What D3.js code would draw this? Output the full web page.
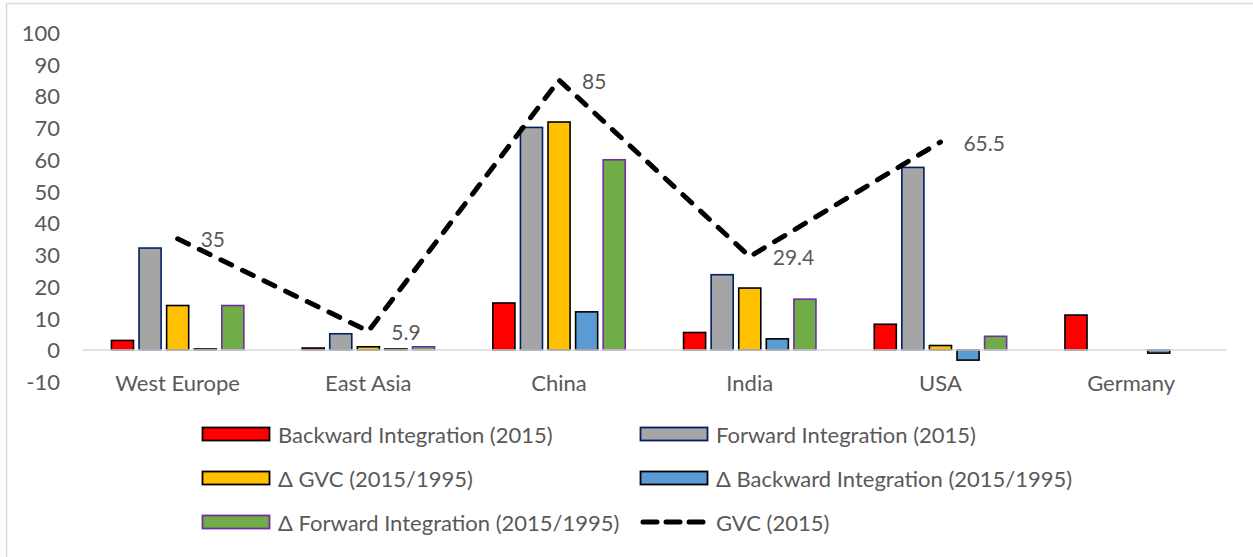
<!DOCTYPE html>
<html>
<head>
<meta charset="utf-8">
<script src="https://cdn.jsdelivr.net/npm/d3@7"></script>
<style>
  html, body { margin: 0; padding: 0; background: #ffffff; }
  svg text { font-family: "Lato", "Liberation Sans", sans-serif; fill: #595959; }
</style>
</head>
<body>
<svg id="chart" width="1253" height="557"></svg>
<script>
// Regions on the horizontal axis
const categories = ["West Europe", "East Asia", "China", "India", "USA", "Germany"];

// Bar series (percent); null = no bar drawn
const backward2015      = [3.0, 0.6, 14.8, 5.5, 8.1, 11.0];
const forward2015       = [32.1, 5.1, 70.1, 23.7, 57.5, null];
const deltaGVC          = [14.0, 1.0, 71.8, 19.5, 1.4, null];
const deltaBackward     = [0.3, 0.3, 12.0, 3.5, -3.2, -1.0];
const deltaForward      = [14.0, 1.0, 59.9, 16.0, 4.3, null];

// Line series with data labels
const gvc2015 = [35, 5.9, 85, 29.4, 65.5, null];

// Value axis ticks
const yTicks = [-10, 0, 10, 20, 30, 40, 50, 60, 70, 80, 90, 100];

const barSeries = [
  { name: "Backward Integration (2015)",           values: backward2015,  fill: "#ff0000", stroke: "#000000" },
  { name: "Forward Integration (2015)",            values: forward2015,   fill: "#a5a5a5", stroke: "#002060" },
  { name: "\u0394 GVC (2015/1995)",                values: deltaGVC,      fill: "#ffc000", stroke: "#000000" },
  { name: "\u0394 Backward Integration (2015/1995)", values: deltaBackward, fill: "#5b9bd5", stroke: "#000000" },
  { name: "\u0394 Forward Integration (2015/1995)",  values: deltaForward,  fill: "#70ad47", stroke: "#7030a0" }
];
const lineSeries = { name: "GVC (2015)", values: gvc2015 };

const svg = d3.select("#chart");

// chart area frame
svg.append("rect")
  .attr("x", 6.5).attr("y", 3.5)
  .attr("width", 1300).attr("height", 600)
  .attr("fill", "none").attr("stroke", "#d9d9d9").attr("stroke-width", 1.5);

const x = d3.scaleBand().domain(categories).range([82.3, 1226.5]).padding(0);
const groupHalf = 66.2;
const xs = d3.scaleBand()
  .domain(barSeries.map(s => s.name))
  .range([-groupHalf, groupHalf])
  .paddingInner(0.2).paddingOuter(0);
const y = d3.scaleLinear().domain([-10, 100]).range([381.7, 32.5]);

// value axis labels (no axis line)
svg.append("g").selectAll("text")
  .data(yTicks).join("text")
  .attr("x", 60).attr("y", d => y(d))
  .attr("text-anchor", "end")
  .attr("dominant-baseline", "central")
  .attr("font-size", 22)
  .text(d => d);

// bars
const cx = c => x(c) + x.bandwidth() / 2;
barSeries.forEach(s => {
  svg.append("g").selectAll("rect")
    .data(categories.map((c, i) => ({ c, v: s.values[i] })).filter(d => d.v !== null))
    .join("rect")
    .attr("x", d => cx(d.c) + xs(s.name))
    .attr("width", xs.bandwidth())
    .attr("y", d => Math.min(y(d.v), y(0)))
    .attr("height", d => Math.abs(y(d.v) - y(0)))
    .attr("fill", s.fill)
    .attr("stroke", s.stroke)
    .attr("stroke-width", 1.6);
});

// zero baseline
svg.append("line")
  .attr("x1", x.range()[0]).attr("x2", x.range()[1])
  .attr("y1", y(0)).attr("y2", y(0))
  .attr("stroke", "#d9d9d9").attr("stroke-width", 1.5);

// GVC dashed line
const lineData = categories.map((c, i) => ({ c, v: lineSeries.values[i] }));
const line = d3.line()
  .defined(d => d.v !== null)
  .x(d => cx(d.c)).y(d => y(d.v));
svg.append("path")
  .datum(lineData)
  .attr("d", line)
  .attr("fill", "none")
  .attr("stroke", "#000000")
  .attr("stroke-width", 5)
  .attr("stroke-linecap", "round")
  .attr("stroke-linejoin", "round")
  .attr("stroke-dasharray", "12 12");

// data labels to the right of each point
svg.append("g").selectAll("text")
  .data(lineData.filter(d => d.v !== null)).join("text")
  .attr("x", d => cx(d.c) + 23)
  .attr("y", d => y(d.v))
  .attr("dominant-baseline", "central")
  .attr("font-size", 21)
  .text(d => d.v);

// category labels
svg.append("g").selectAll("text")
  .data(categories).join("text")
  .attr("x", d => cx(d)).attr("y", 382)
  .attr("text-anchor", "middle")
  .attr("dominant-baseline", "central")
  .attr("font-size", 22)
  .text(d => d);

// legend: two columns, three rows
const legendItems = barSeries.map(s => ({ type: "bar", ...s })).concat([{ type: "line", name: lineSeries.name }]);
const colX = [202, 640];
const rowY = [434, 478, 522];
const lg = svg.append("g");
legendItems.forEach((it, i) => {
  const gx = colX[i % 2], gy = rowY[Math.floor(i / 2)];
  const g = lg.append("g").attr("transform", `translate(${gx},${gy})`);
  if (it.type === "bar") {
    g.append("rect")
      .attr("x", 0.5).attr("y", -6.5)
      .attr("width", 67).attr("height", 13)
      .attr("fill", it.fill).attr("stroke", it.stroke).attr("stroke-width", 1.8);
  } else {
    g.append("line")
      .attr("x1", 3).attr("x2", 65).attr("y1", 0).attr("y2", 0)
      .attr("stroke", "#000").attr("stroke-width", 5)
      .attr("stroke-linecap", "round")
      .attr("stroke-dasharray", "14 9");
  }
  g.append("text")
    .attr("x", 76).attr("y", 0)
    .attr("dominant-baseline", "central")
    .attr("font-size", 22)
    .text(it.name);
});
</script>
</body>
</html>
